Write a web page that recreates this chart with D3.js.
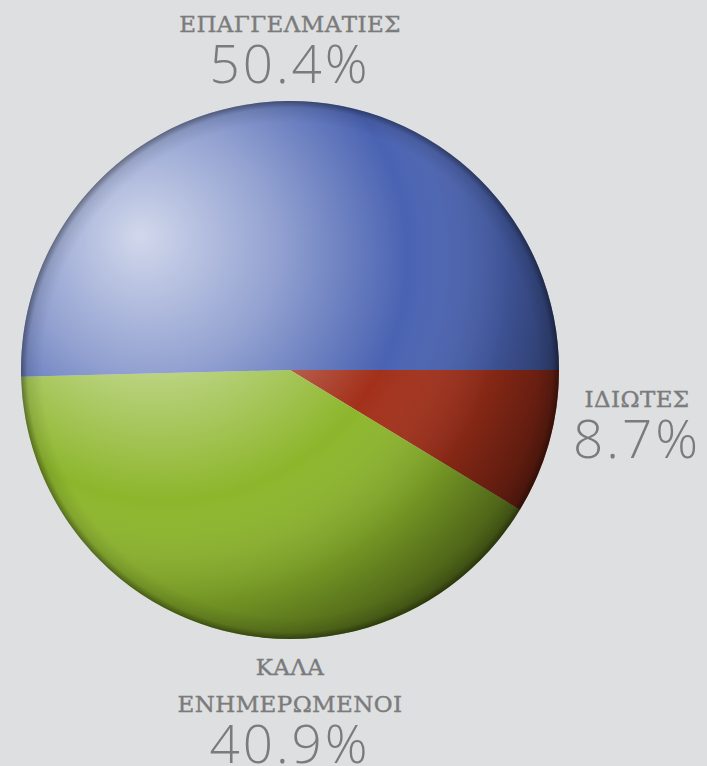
<!DOCTYPE html>
<html>
<head>
<meta charset="utf-8">
<script src="https://cdn.jsdelivr.net/npm/d3@7"></script>
<style>
  body { margin: 0; background: #dedfe1; }
  svg { display: block; }
</style>
</head>
<body>
<script>
// data
var categories = ['ΙΔΙΩΤΕΣ', 'ΚΑΛΑ ΕΝΗΜΕΡΩΜΕΝΟΙ', 'ΕΠΑΓΓΕΛΜΑΤΙΕΣ'];
var values = [8.7, 40.9, 50.4];
var colors = ['#a3301a', '#8db62c', '#4a63b2'];

var width = 707, height = 766,
    cx = 290, cy = 370, r = 269;

var svg = d3.select('body').append('svg')
    .attr('width', width)
    .attr('height', height);

var defs = svg.append('defs');

// highlight toward upper left
var hl = defs.append('radialGradient')
    .attr('id', 'hl')
    .attr('cx', 0.3).attr('cy', 0.32).attr('r', 0.78)
    .attr('fx', 0.22).attr('fy', 0.25);
hl.append('stop').attr('offset', 0).attr('stop-color', '#fff').attr('stop-opacity', 0.75);
hl.append('stop').attr('offset', 0.3).attr('stop-color', '#fff').attr('stop-opacity', 0.4);
hl.append('stop').attr('offset', 0.58).attr('stop-color', '#fff').attr('stop-opacity', 0);
hl.append('stop').attr('offset', 0.8).attr('stop-color', '#000').attr('stop-opacity', 0.18);
hl.append('stop').attr('offset', 1).attr('stop-color', '#000').attr('stop-opacity', 0.55);

// dark rim
var rim = defs.append('radialGradient')
    .attr('id', 'rim')
    .attr('cx', 0.5).attr('cy', 0.5).attr('r', 0.5);
rim.append('stop').attr('offset', 0.92).attr('stop-color', '#000').attr('stop-opacity', 0);
rim.append('stop').attr('offset', 0.975).attr('stop-color', '#000').attr('stop-opacity', 0.1);
rim.append('stop').attr('offset', 1).attr('stop-color', '#000').attr('stop-opacity', 0.4);

var pie = d3.pie().sort(null)
    .startAngle(Math.PI / 2)
    .endAngle(Math.PI / 2 + 2 * Math.PI);
var arc = d3.arc().innerRadius(0).outerRadius(r);

var g = svg.append('g').attr('transform', 'translate(' + cx + ',' + cy + ')');

g.selectAll('path.slice')
  .data(pie(values))
  .enter().append('path')
    .attr('class', 'slice')
    .attr('d', arc)
    .attr('fill', function(d, i) { return colors[i]; });

g.append('circle').attr('r', r).attr('fill', 'url(#hl)');
g.append('circle').attr('r', r).attr('fill', 'url(#rim)');

// labels
var labels = [
  { lines: ['ΕΠΑΓΓΕΛΜΑΤΙΕΣ'], value: values[2], x: 290, y: 32 },
  { lines: ['ΙΔΙΩΤΕΣ'], value: values[0], x: 637, y: 407 },
  { lines: ['ΚΑΛΑ', 'ΕΝΗΜΕΡΩΜΕΝΟΙ'], value: values[1], x: 290, y: 675 }
];

labels.forEach(function(l) {
  var t = svg.append('g').attr('fill', '#7b7b7b').attr('text-anchor', 'middle');
  l.lines.forEach(function(s, j) {
    t.append('text')
      .attr('x', l.x)
      .attr('y', l.y + j * 37)
      .attr('font-family', "'DejaVu Serif', 'Liberation Serif', serif")
      .attr('font-size', 23)
      .attr('letter-spacing', 0.4)
      .attr('stroke', '#7b7b7b')
      .attr('stroke-width', 0.4)
      .text(s);
  });
  t.append('text')
    .attr('x', l.x)
    .attr('y', l.y + (l.lines.length - 1) * 37 + 51)
    .attr('font-family', "'Open Sans', sans-serif")
    .attr('font-weight', 300)
    .attr('font-size', 53)
    .attr('letter-spacing', 3)
    .text(d3.format('.1f')(l.value) + '%');
});
</script>
</body>
</html>
